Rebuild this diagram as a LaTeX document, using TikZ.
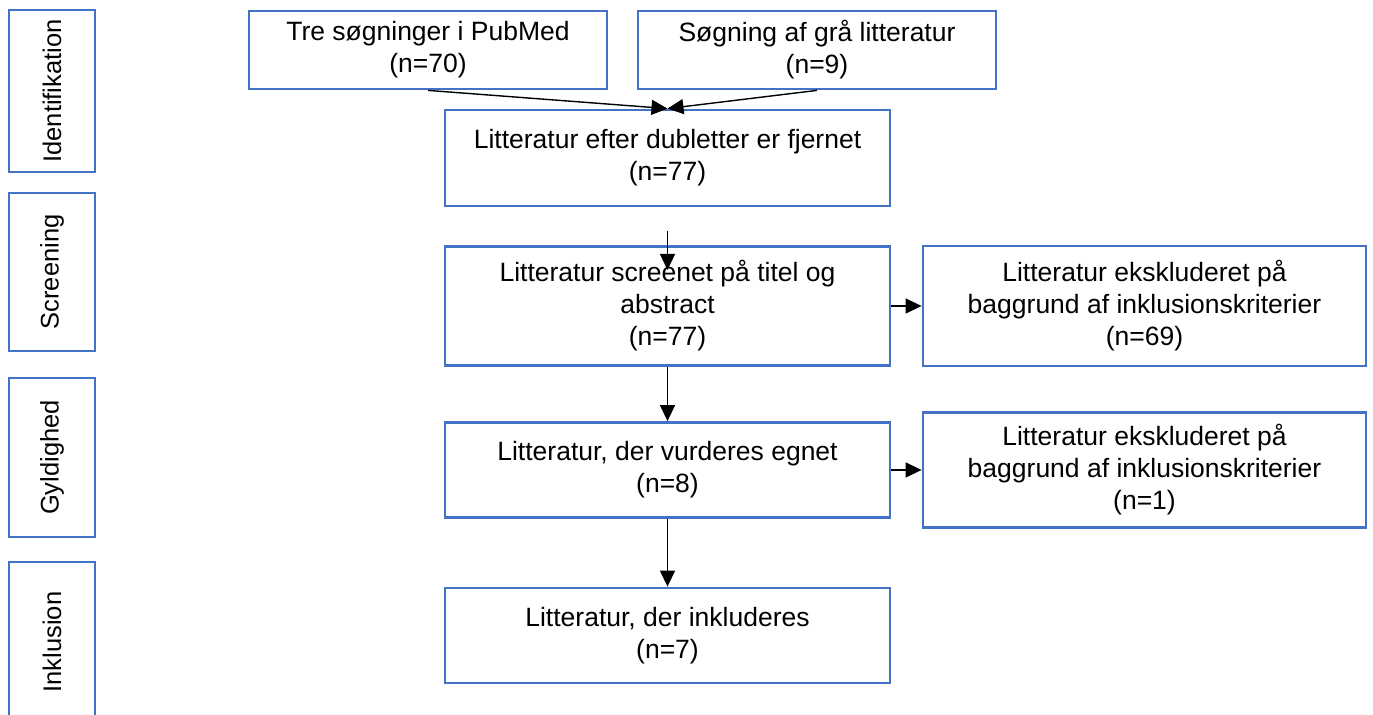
\documentclass[tikz,border=0pt]{standalone}
\usepackage{fontspec}
\setmainfont{Liberation Sans}
\usetikzlibrary{arrows.meta}
\definecolor{boxblue}{RGB}{68,114,196}

\begin{document}
\begin{tikzpicture}
[x=0.5pt, y=-0.5pt, every node/.style={inner sep=0pt},
 box/.style={rectangle, draw=boxblue, fill=white, line width=1.4pt, align=center, font=\fontsize{13.25}{16}\selectfont},
 side/.style={rectangle, draw=boxblue, fill=white, line width=1.4pt, align=center, rotate=90, minimum height=43pt, font=\fontsize{12.75}{15}\selectfont},
 link/.style={line width=0.7pt, -{Triangle[length=8pt, width=7.5pt]}, color=black}]
\useasboundingbox (0,0) rectangle (1373,715);
\clip (0,0) rectangle (1373,715);
\node (9) [side, minimum width=81pt] at (52, 91) {Identifikation};
\node (10) [side, minimum width=79pt] at (52, 272) {Screening};
\node (11) [side, minimum width=79.5pt] at (52, 457.5) {Gyldighed};
\node (12) [side, minimum width=80pt] at (52, 642) {Inklusion};
\node (1) [box, minimum width=179pt, minimum height=39pt] at (428, 50) {Tre søgninger i PubMed\\(n=70)};
\node (2) [box, minimum width=179pt, minimum height=39pt] at (817, 50) {Søgning af grå litteratur\\(n=9)};
\node (3) [box, minimum width=222.5pt, minimum height=48pt] at (667.5, 158) {Litteratur efter dubletter er fjernet\\(n=77)};
\node (4) [box, minimum width=222.5pt, minimum height=59.5pt] at (667.5, 306) {Litteratur screenet på titel og\\abstract\\(n=77)};
\node (5) [box, minimum width=221.5pt, minimum height=60pt] at (1144.5, 306) {Litteratur ekskluderet på\\baggrund af inklusionskriterier\\(n=69)};
\node (6) [box, minimum width=222.5pt, minimum height=47.5pt] at (667.5, 470) {Litteratur, der vurderes egnet\\(n=8)};
\node (7) [box, minimum width=221.5pt, minimum height=57.5pt] at (1144.5, 470) {Litteratur ekskluderet på\\baggrund af inklusionskriterier\\(n=1)};
\node (8) [box, minimum width=222.5pt, minimum height=47.5pt] at (667.5, 635.5) {Litteratur, der inkluderes\\(n=7)};
\coordinate (c1) at (667.5, 231);
\coordinate (c2) at (667.5, 270);
\draw [link] (1.south) to (3.north);
\draw [link] (2.south) to (3.north);
\draw [link] (c1) to (c2);
\draw [link] (4) to (5);
\draw [link] (4) to (6);
\draw [link] (6) to (7);
\draw [link] (6) to (8);
\end{tikzpicture}
\end{document}
